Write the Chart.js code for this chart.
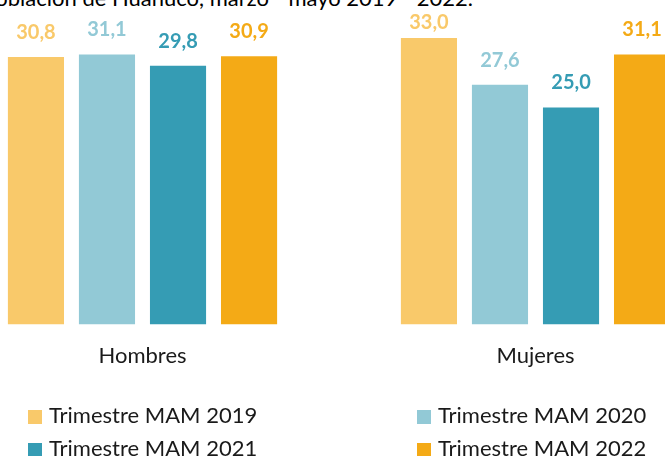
<!DOCTYPE html>
<html>
<head>
<meta charset="utf-8">
<script src="https://cdn.jsdelivr.net/npm/chart.js@4.4.1/dist/chart.umd.min.js"></script>
<style>
  html, body { margin: 0; padding: 0; background: #fff; }
  body { width: 665px; height: 456px; position: relative; overflow: hidden; font-family: Lato, "Liberation Sans", sans-serif; }
  #chart { position: absolute; left: -54px; top: 0; }
  #title { position: absolute; top: -13px; right: 192px; font-size: 22px; line-height: 22px; white-space: nowrap; color: #000; }
  .leg { position: absolute; font-size: 22px; line-height: 22px; color: #1a1a1a; white-space: nowrap; }
  .leg span { display: inline-block; width: 14px; height: 14px; margin-right: 7px; vertical-align: -1px; }
</style>
</head>
<body>
<div id="title">Tasa de desempleo de la población de Huánuco, marzo - mayo 2019 - 2022.</div>
<canvas id="chart" width="786" height="456"></canvas>
<div id="legend"></div>
<script>
const categories = ["Hombres", "Mujeres"];
const seriesNames = ["Trimestre MAM 2019", "Trimestre MAM 2020", "Trimestre MAM 2021", "Trimestre MAM 2022"];
const values2019 = [30.8, 33.0];
const values2020 = [31.1, 27.6];
const values2021 = [29.8, 25.0];
const values2022 = [30.9, 31.1];
const colors = ["#F9C96A", "#92C9D6", "#359CB4", "#F4AA16"];

const allValues = [values2019, values2020, values2021, values2022];

// value labels above each bar, same colour as the bar (kept below the title)
const barLabels = {
    id: "barLabels",
    afterDatasetsDraw(chart) {
        const ctx = chart.ctx;
        ctx.save();
        ctx.font = "bold 20px Lato";
        ctx.textAlign = "center";
        ctx.textBaseline = "alphabetic";
        chart.data.datasets.forEach((ds, i) => {
            const meta = chart.getDatasetMeta(i);
            ctx.fillStyle = ds.backgroundColor;
            meta.data.forEach((bar, j) => {
                const y = Math.max(bar.y - 18, chart.chartArea.top + 29);
                ctx.fillText(ds.data[j].toFixed(1).replace(".", ","), bar.x, y);
            });
        });
        ctx.restore();
    }
};

const chart = new Chart(document.getElementById("chart"), {
    type: "bar",
    data: {
        labels: categories,
        datasets: seriesNames.map((name, i) => ({
            label: name,
            data: allValues[i],
            backgroundColor: colors[i],
            categoryPercentage: 0.723,
            barPercentage: 0.79
        }))
    },
    options: {
        responsive: false,
        animation: false,
        layout: { padding: { top: 0, left: 0, right: 0, bottom: 69 } },
        plugins: {
            legend: { display: false },
            tooltip: { enabled: false }
        },
        scales: {
            y: { display: false, min: 0, max: 37.36 },
            x: {
                grid: { display: false, drawTicks: false },
                border: { display: false },
                ticks: { padding: 18, color: "#1a1a1a", font: { family: "Lato", size: 22 } }
            }
        }
    },
    plugins: [barLabels]
});

// legend in two columns
const legendPos = [[28, 404], [417, 404], [28, 437], [417, 437]];
const legend = document.getElementById("legend");
chart.data.datasets.forEach((ds, i) => {
    const d = document.createElement("div");
    d.className = "leg";
    d.style.left = legendPos[i][0] + "px";
    d.style.top = legendPos[i][1] + "px";
    d.innerHTML = '<span style="background:' + ds.backgroundColor + '"></span>' + ds.label;
    legend.appendChild(d);
});
</script>
</body>
</html>
